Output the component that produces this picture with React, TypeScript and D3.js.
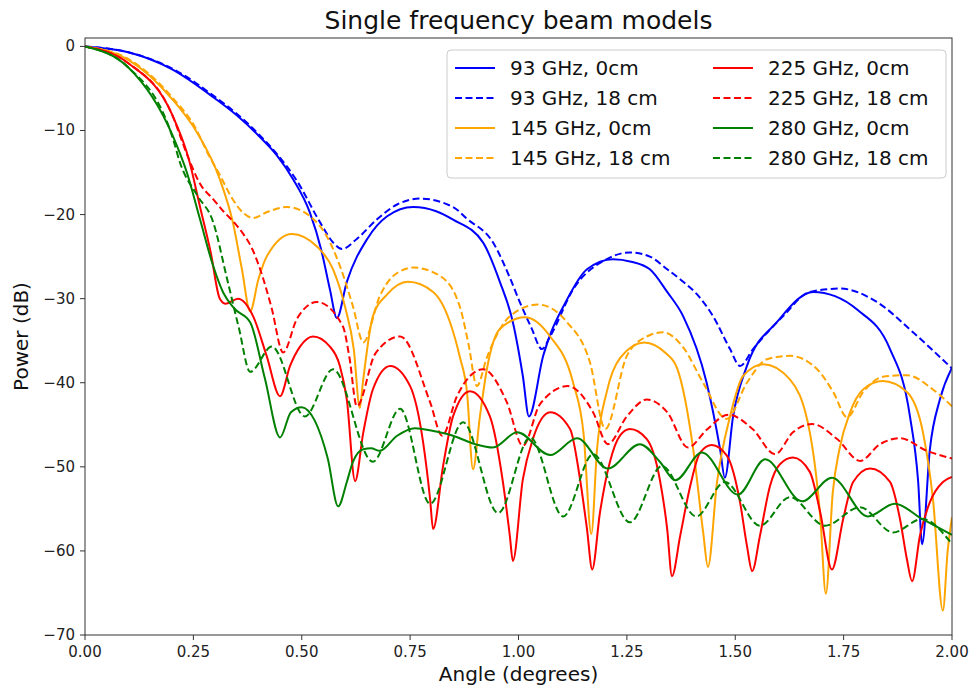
import React from 'react';
import * as d3 from 'd3';

type Pt = [number, number];

// ---- data (angle in degrees, power in dB) ----
const xTicks = [0, 0.25, 0.5, 0.75, 1.0, 1.25, 1.5, 1.75, 2.0];
const yTicks = [0, -10, -20, -30, -40, -50, -60, -70];

const labels = [
  '93 GHz, 0cm', '93 GHz, 18 cm', '145 GHz, 0cm', '145 GHz, 18 cm',
  '225 GHz, 0cm', '225 GHz, 18 cm', '280 GHz, 0cm', '280 GHz, 18 cm',
];
const colors = ['blue', 'blue', 'orange', 'orange', 'red', 'red', 'green', 'green'];
const dashed = [false, true, false, true, false, true, false, true];

const ghz93_0cm: Pt[] = [
  [0, 0], [0.1, -0.7], [0.2, -2.7], [0.3, -6.2], [0.35, -8.2], [0.4, -10.6], [0.443, -13.0],
  [0.48, -15.8], [0.519, -19.8], [0.545, -24.2], [0.565, -28.9], [0.581, -32.3], [0.604, -28.0],
  [0.651, -22.9], [0.697, -20.2], [0.757, -19.1], [0.81, -19.6], [0.849, -20.6], [0.918, -23.3],
  [0.957, -28.0], [0.987, -32.8], [1.01, -39.2], [1.024, -44.0], [1.057, -36.8], [1.112, -30.1],
  [1.158, -26.5], [1.218, -25.3], [1.26, -25.6], [1.303, -26.5], [1.343, -29.2], [1.38, -32.1],
  [1.434, -40.0], [1.465, -47.9], [1.476, -51.3], [1.495, -44.0], [1.527, -38.0], [1.596, -32.8],
  [1.68, -29.2], [1.73, -29.7], [1.781, -31.3], [1.857, -36.0], [1.903, -44.0], [1.922, -51.8],
  [1.931, -59.2], [1.949, -47.9], [1.972, -42.0], [2.0, -38.2],
];
const ghz93_18cm: Pt[] = [
  [0, 0], [0.1, -0.7], [0.2, -2.6], [0.3, -6.0], [0.35, -8.0], [0.4, -10.4], [0.443, -12.8],
  [0.489, -16.0], [0.542, -20.9], [0.572, -23.3], [0.593, -24.1], [0.627, -22.9], [0.673, -20.6],
  [0.72, -18.8], [0.773, -18.1], [0.849, -19.1], [0.881, -20.5], [0.941, -23.3], [0.98, -27.5],
  [1.003, -30.4], [1.03, -33.5], [1.054, -36.0], [1.073, -34.5], [1.126, -28.9], [1.204, -25.3],
  [1.257, -24.5], [1.303, -25.0], [1.343, -26.5], [1.38, -28.0], [1.412, -29.5], [1.449, -32.1],
  [1.488, -36.0], [1.511, -38.0], [1.541, -36.0], [1.61, -32.1], [1.672, -29.2], [1.742, -28.8],
  [1.827, -30.4], [1.91, -34.0], [2.0, -38.3],
];
const ghz145_0cm: Pt[] = [
  [0, 0], [0.1, -1.6], [0.2, -6.2], [0.258, -10.2], [0.311, -15.8], [0.341, -20.9], [0.362, -26.5],
  [0.381, -31.5], [0.4, -27.7], [0.419, -25.0], [0.477, -22.3], [0.535, -23.8], [0.572, -26.5],
  [0.6, -31.0], [0.62, -36.0], [0.634, -43.0], [0.641, -40.0], [0.664, -32.1], [0.697, -29.5],
  [0.745, -28.0], [0.803, -29.2], [0.842, -32.8], [0.865, -37.0], [0.881, -41.0], [0.895, -50.3],
  [0.911, -44.0], [0.927, -38.4], [0.957, -33.6], [1.015, -32.2], [1.073, -34.5], [1.126, -40.0],
  [1.15, -46.0], [1.168, -58.0], [1.181, -48.0], [1.204, -41.0], [1.235, -37.0], [1.29, -35.2],
  [1.34, -36.5], [1.366, -38.3], [1.403, -47.9], [1.426, -57.8], [1.437, -61.9], [1.458, -51.8],
  [1.488, -44.0], [1.518, -39.2], [1.565, -37.8], [1.626, -39.6], [1.672, -45.9], [1.696, -55.9],
  [1.709, -65.1], [1.725, -53.0], [1.74, -48.0], [1.765, -43.5], [1.795, -40.8], [1.84, -39.8],
  [1.896, -41.1], [1.933, -45.9], [1.956, -53.8], [1.979, -67.1], [1.99, -60.0], [2.0, -56.0],
];
const ghz145_18cm: Pt[] = [
  [0, 0], [0.1, -1.5], [0.2, -6.0], [0.258, -10.0], [0.281, -12.5], [0.311, -15.3], [0.341, -18.2],
  [0.365, -19.8], [0.388, -20.4], [0.42, -19.7], [0.466, -19.1], [0.519, -20.2], [0.558, -22.6],
  [0.588, -26.1], [0.618, -30.9], [0.642, -35.2], [0.68, -29.7], [0.711, -27.3], [0.757, -26.3],
  [0.819, -27.3], [0.865, -31.0], [0.885, -35.5], [0.904, -40.4], [0.927, -37.0], [0.98, -32.1],
  [1.045, -30.7], [1.112, -32.8], [1.165, -37.6], [1.2, -45.5], [1.25, -36.8], [1.296, -34.5],
  [1.333, -34.0], [1.38, -35.8], [1.426, -40.0], [1.48, -44.3], [1.527, -40.0], [1.573, -37.2],
  [1.626, -36.8], [1.689, -38.4], [1.726, -41.1], [1.758, -44.1], [1.795, -41.1], [1.84, -39.3],
  [1.896, -39.1], [1.956, -40.8], [2.0, -42.8],
];
const ghz225_0cm: Pt[] = [
  [0, 0], [0.1, -2.0], [0.2, -8.0], [0.24, -13.5], [0.265, -19.0], [0.29, -24.5], [0.311, -30.0],
  [0.325, -30.6], [0.353, -30.0], [0.388, -32.1], [0.419, -36.8], [0.45, -41.6], [0.473, -38.0],
  [0.496, -35.7], [0.526, -34.5], [0.565, -35.7], [0.588, -38.0], [0.604, -42.0], [0.623, -51.7],
  [0.642, -45.9], [0.664, -40.8], [0.704, -38.0], [0.75, -40.4], [0.78, -47.1], [0.796, -53.8],
  [0.803, -57.4], [0.826, -49.9], [0.849, -44.0], [0.888, -41.0], [0.934, -44.0], [0.964, -51.8],
  [0.98, -58.2], [0.987, -61.2], [1.01, -51.5], [1.033, -46.7], [1.073, -43.5], [1.119, -45.5],
  [1.142, -51.5], [1.158, -57.4], [1.17, -62.2], [1.188, -55.4], [1.211, -49.4], [1.234, -46.3],
  [1.257, -45.5], [1.296, -46.7], [1.326, -51.5], [1.343, -57.4], [1.354, -63.0], [1.373, -58.2],
  [1.396, -52.3], [1.419, -48.3], [1.446, -47.4], [1.481, -48.7], [1.511, -54.2], [1.527, -59.4],
  [1.539, -62.4], [1.557, -58.2], [1.58, -52.3], [1.603, -49.7], [1.633, -48.9], [1.672, -50.6],
  [1.696, -55.4], [1.723, -62.2], [1.749, -56.2], [1.772, -51.8], [1.811, -50.2], [1.857, -51.8],
  [1.88, -56.2], [1.896, -61.0], [1.908, -63.6], [1.926, -58.2], [1.949, -54.2], [1.979, -51.8],
  [2.0, -51.2],
];
const ghz225_18cm: Pt[] = [
  [0, 0], [0.1, -2.0], [0.2, -8.0], [0.235, -12.8], [0.265, -16.3], [0.296, -18.2], [0.319, -19.6],
  [0.345, -21.0], [0.365, -22.3], [0.385, -24.0], [0.404, -26.5], [0.43, -31.0], [0.457, -36.4],
  [0.489, -32.4], [0.535, -30.4], [0.595, -33.3], [0.61, -37.0], [0.627, -42.8], [0.67, -36.5],
  [0.727, -34.5], [0.796, -42.3], [0.824, -46.3], [0.858, -41.6], [0.918, -38.4], [0.973, -42.3],
  [1.01, -47.5], [1.05, -42.5], [1.114, -40.4], [1.172, -43.5], [1.206, -47.3], [1.25, -44.0],
  [1.296, -42.0], [1.343, -43.5], [1.391, -47.7], [1.434, -45.6], [1.484, -43.8], [1.54, -45.5],
  [1.592, -48.5], [1.633, -45.9], [1.677, -44.9], [1.735, -46.7], [1.788, -49.3], [1.834, -47.3],
  [1.88, -46.6], [1.942, -48.1], [2.0, -49.0],
];
const ghz280_0cm: Pt[] = [
  [0, 0], [0.1, -2.5], [0.203, -10.7], [0.235, -15.0], [0.265, -20.5], [0.295, -26.0], [0.319, -29.3],
  [0.345, -31.2], [0.381, -32.8], [0.415, -39.5], [0.45, -46.5], [0.475, -43.5], [0.5, -42.9],
  [0.53, -44.5], [0.56, -49.0], [0.584, -54.7], [0.604, -51.8], [0.618, -49.4], [0.642, -47.9],
  [0.66, -47.8], [0.68, -48.1], [0.72, -46.3], [0.761, -45.4], [0.81, -45.8], [0.849, -46.3],
  [0.9, -47.3], [0.941, -47.7], [0.997, -45.9], [1.073, -48.6], [1.135, -46.6], [1.206, -50.2],
  [1.28, -47.3], [1.326, -49.4], [1.362, -51.6], [1.423, -48.3], [1.506, -53.3], [1.569, -49.1],
  [1.654, -54.1], [1.723, -51.3], [1.806, -55.9], [1.868, -54.4], [1.931, -56.2], [2.0, -58.1],
];
const ghz280_18cm: Pt[] = [
  [0, 0], [0.1, -2.5], [0.203, -11.0], [0.219, -13.8], [0.26, -17.8], [0.295, -20.8], [0.328, -27.7],
  [0.355, -33.5], [0.381, -38.7], [0.431, -35.7], [0.507, -44.0], [0.572, -38.4], [0.664, -49.4],
  [0.727, -43.1], [0.796, -54.4], [0.872, -44.7], [0.953, -55.5], [1.027, -46.5], [1.103, -55.9],
  [1.172, -48.5], [1.257, -56.6], [1.331, -49.9], [1.41, -55.9], [1.476, -51.8], [1.557, -57.0],
  [1.626, -53.6], [1.707, -57.0], [1.788, -54.8], [1.864, -57.8], [1.931, -56.2], [2.0, -59.2],
];

const seriesData = [
  ghz93_0cm, ghz93_18cm, ghz145_0cm, ghz145_18cm,
  ghz225_0cm, ghz225_18cm, ghz280_0cm, ghz280_18cm,
];

// ---- layout ----
const W = 970;
const H = 687;
const L = 85, R = 952, T = 38, B = 635;
const FONT = "'DejaVu Sans', sans-serif";

export default function App() {
  const x = d3.scaleLinear().domain([0, 2]).range([L, R]);
  const y = d3.scaleLinear().domain([-70, 1]).range([B, T]);
  const line = d3.line<Pt>()
    .x((d) => x(d[0]))
    .y((d) => y(d[1]))
    .curve(d3.curveMonotoneX);
  const fmtX = d3.format('.2f');
  const fmtY = (v: number) => (v < 0 ? '\u2212' + Math.abs(v) : String(v));

  const legX = 447, legY = 50, legW = 499, legH = 128;
  const rowY = (i: number) => 68 + i * 30;
  const colX = [455, 713];

  return (
    <svg width={W} height={H} style={{ position: 'absolute', left: 0, top: 0, background: '#fff' }}
      fontFamily={FONT}>
      <rect x={0} y={0} width={W} height={H} fill="#fff" />
      <defs>
        <clipPath id="plot">
          <rect x={L} y={T} width={R - L} height={B - T} />
        </clipPath>
      </defs>
      <text x={(L + R) / 2} y={29} textAnchor="middle" fontSize={25} fill="#111">
        Single frequency beam models
      </text>
      <g clipPath="url(#plot)">
        {seriesData.map((d, i) => (
          <path key={i} d={line(d) || ''} fill="none" stroke={colors[i]} strokeWidth={2}
            strokeDasharray={dashed[i] ? '7,3.5' : undefined} strokeLinejoin="round" />
        ))}
      </g>
      <rect x={L} y={T} width={R - L} height={B - T} fill="none" stroke="#333" strokeWidth={1} />
      {xTicks.map((t) => (
        <g key={'x' + t}>
          <line x1={x(t)} x2={x(t)} y1={B} y2={B + 5} stroke="#333" />
          <text x={x(t)} y={657} textAnchor="middle" fontSize={15} fill="#222">{fmtX(t)}</text>
        </g>
      ))}
      {yTicks.map((t) => (
        <g key={'y' + t}>
          <line x1={L - 5} x2={L} y1={y(t)} y2={y(t)} stroke="#333" />
          <text x={L - 10} y={y(t) + 5} textAnchor="end" fontSize={15} fill="#222">{fmtY(t)}</text>
        </g>
      ))}
      <text x={(L + R) / 2} y={681} textAnchor="middle" fontSize={20} fill="#111">Angle (degrees)</text>
      <text transform={`translate(28,${(T + B) / 2}) rotate(-90)`} textAnchor="middle" fontSize={20}
        fill="#111">Power (dB)</text>
      <rect x={legX} y={legY} width={legW} height={legH} rx={4} fill="#fff" fillOpacity={0.8}
        stroke="#ccc" />
      {labels.map((lab, i) => {
        const col = Math.floor(i / 4);
        const row = i % 4;
        const cy = rowY(row);
        const hx = colX[col];
        return (
          <g key={lab}>
            <line x1={hx} x2={hx + 40} y1={cy} y2={cy} stroke={colors[i]} strokeWidth={2}
              strokeDasharray={dashed[i] ? '7,3.5' : undefined} />
            <text x={hx + 55} y={cy + 7} fontSize={20} fill="#111">{lab}</text>
          </g>
        );
      })}
    </svg>
  );
}
